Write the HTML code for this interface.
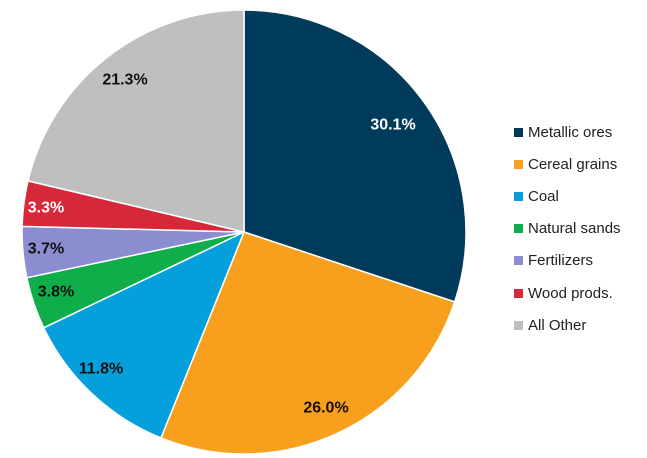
<!DOCTYPE html>
<html><head><meta charset="utf-8"><style>
body{margin:0;background:#fff;width:647px;height:458px;overflow:hidden}
svg{display:block}
.l{font-family:"Liberation Sans",Arial,sans-serif;font-size:16px;font-weight:bold;text-anchor:middle;dominant-baseline:central}
.g{font-family:"Liberation Sans",Arial,sans-serif;font-size:15px;fill:#222;dominant-baseline:central}
</style></head><body>
<svg width="647" height="458" viewBox="0 0 647 458">
<g stroke="#fff" stroke-width="1.5">
<path d="M244,232 L244,10 A222,222 0 0 1 454.7,301.9 Z" fill="#003B5C"/>
<path d="M244,232 L454.7,301.9 A222,222 0 0 1 161.0,437.9 Z" fill="#F8A01D"/>
<path d="M244,232 L161.0,437.9 A222,222 0 0 1 43.7,327.8 Z" fill="#05A0DB"/>
<path d="M244,232 L43.7,327.8 A222,222 0 0 1 26.8,277.7 Z" fill="#0FAE4B"/>
<path d="M244,232 L26.8,277.7 A222,222 0 0 1 22.1,226.4 Z" fill="#8C8DD1"/>
<path d="M244,232 L22.1,226.4 A222,222 0 0 1 28.0,180.9 Z" fill="#D62839"/>
<path d="M244,232 L28.0,180.9 A222,222 0 0 1 244,10 Z" fill="#BFBFBF"/>
</g>
<text class="l" x="393" y="125" fill="#fff">30.1%</text>
<text class="l" x="326" y="408" fill="#111">26.0%</text>
<text class="l" x="101" y="369" fill="#111">11.8%</text>
<text class="l" x="56" y="292" fill="#111">3.8%</text>
<text class="l" x="46" y="249" fill="#111">3.7%</text>
<text class="l" x="46" y="208" fill="#fff">3.3%</text>
<text class="l" x="125" y="80" fill="#111">21.3%</text>
<g>
<rect x="514" y="128" width="9" height="9" fill="#003B5C"/><text class="g" x="528" y="132.5">Metallic ores</text>
<rect x="514" y="160" width="9" height="9" fill="#F8A01D"/><text class="g" x="528" y="164.5">Cereal grains</text>
<rect x="514" y="192" width="9" height="9" fill="#05A0DB"/><text class="g" x="528" y="196.5">Coal</text>
<rect x="514" y="224" width="9" height="9" fill="#0FAE4B"/><text class="g" x="528" y="228.5">Natural sands</text>
<rect x="514" y="256" width="9" height="9" fill="#8C8DD1"/><text class="g" x="528" y="260.5">Fertilizers</text>
<rect x="514" y="289" width="9" height="9" fill="#D62839"/><text class="g" x="528" y="293.5">Wood prods.</text>
<rect x="514" y="321" width="9" height="9" fill="#BFBFBF"/><text class="g" x="528" y="325.5">All Other</text>
</g>
</svg>
</body></html>
